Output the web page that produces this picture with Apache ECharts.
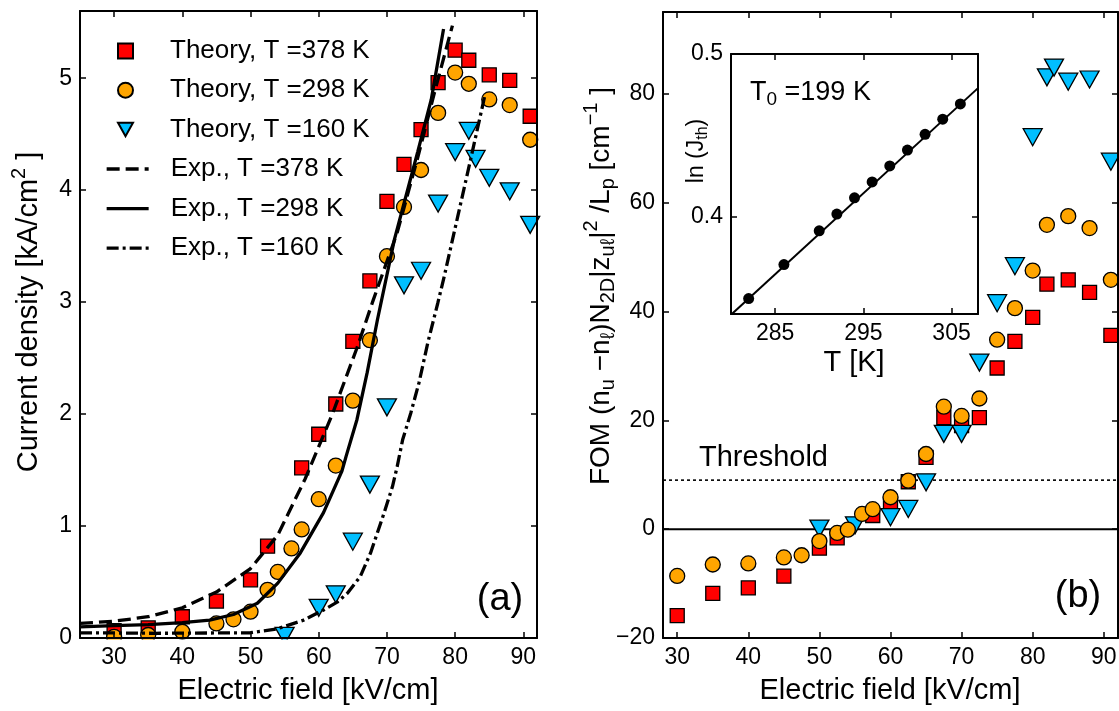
<!DOCTYPE html>
<html><head><meta charset="utf-8">
<script src="https://cdn.jsdelivr.net/npm/echarts@6/dist/echarts.min.js"></script>
<style>html,body{margin:0;padding:0;background:#fff}#c{width:1119px;height:711px}</style>
</head><body><div id="c"></div>
<script>
// ---------- Panel (a): current density ----------
const thE378 = [30,35,40,45,50,52.5,57.5,60,62.5,65,67.5,70,72.5,75,77.5,80,82,85,88,91];
const thJ378 = [0.065,0.09,0.19,0.33,0.52,0.82,1.52,1.82,2.09,2.65,3.19,3.90,4.23,4.54,4.96,5.25,5.16,5.03,4.98,4.66];
const thE298 = [30,35,40,45,47.5,50,52.5,54,56,57.5,60,62.5,65,67.5,70,72.5,75,77.5,80,82,85,88,91];
const thJ298 = [0.01,0.027,0.056,0.13,0.167,0.235,0.43,0.59,0.80,0.97,1.24,1.54,2.12,2.66,3.41,3.85,4.18,4.69,5.05,4.95,4.81,4.76,4.45];
const thE160 = [55,60,62.5,65,67.5,70,72.5,75,77.5,80,82,83,85,88,91];
const thJ160 = [0.02,0.27,0.39,0.86,1.37,2.06,3.15,3.28,3.88,4.34,4.53,4.28,4.11,3.99,3.69];

const expE378 = [25,30,35,40,45,50,54,58,62,65.6,68,71.5,74.6,77,79.6];
const expJ378 = [0.13,0.15,0.19,0.27,0.41,0.62,0.92,1.42,2.0,2.59,3.02,3.62,4.31,4.88,5.47];
const expE298 = [25,30,35,40,44,47.5,51,54,57.3,60.7,63.4,64,65.6,67.1,68.6,71.1,74.5,76.5,78.3];
const expJ298 = [0.10,0.11,0.12,0.137,0.16,0.21,0.31,0.49,0.76,1.12,1.49,1.62,1.95,2.37,2.84,3.56,4.34,4.81,5.44];
const expE160 = [25,30,36,45,50,53.8,57.8,60.7,62.7,64.2,66.1,67.6,68.6,69.6,70.8,71.5,72.3,73.5,74.7,76,77.45,78.4,80.4,82.4,84.3];
const expJ160 = [0.045,0.045,0.042,0.045,0.047,0.08,0.16,0.25,0.32,0.40,0.55,0.76,0.94,1.12,1.35,1.53,1.77,2.01,2.28,2.64,2.99,3.23,3.77,4.31,4.83];

const aXTicks = [30,40,50,60,70,80,90];
const aYTicks = [0,1,2,3,4,5];

// ---------- Panel (b): FOM ----------
const fE378 = [30,35,40,45,50,52.5,57.5,60,62.5,65,67.5,70,72.5,75,77.5,80,82,85,88,91];
const fV378 = [-15.9,-11.8,-10.8,-8.65,-3.5,-1.6,2.5,4.6,8.7,13.2,20.5,19.0,20.5,29.6,34.5,38.9,45.0,45.8,43.5,35.6];
const fE298 = [30,35,40,45,47.5,50,52.5,54,56,57.5,60,62.5,65,67.5,70,72.5,75,77.5,80,82,85,88,91];
const fV298 = [-8.6,-6.5,-6.3,-5.2,-4.8,-2.2,-0.7,-0.1,2.8,3.66,5.86,8.9,13.8,22.5,20.8,24.0,34.8,40.6,47.5,55.9,57.5,55.3,45.8];
const fE160 = [50,55,60,62.5,65,67.5,70,72.5,75,77.5,80,82,83,85,88,91];
const fV160 = [0.1,0.7,2.2,3.7,8.6,17.5,17.5,30.6,41.5,48.3,72.0,83.0,84.8,82.2,82.6,67.5];
const threshold = 9;
const bXTicks = [30,40,50,60,70,80,90];
const bYTicks = [-20,0,20,40,60,80];

// ---------- Inset ----------
const insT = [282,286,290,292,294,296,298,300,302,304,306];
const insLnJ = [0.3495,0.3704,0.3912,0.4015,0.4115,0.4213,0.4311,0.4409,0.4506,0.4599,0.4693];
const fitT = [280,308];
const fitLnJ = [0.3395,0.479];
const insXTicks = [285,295,305];
const insYTicks = [0.4,0.5];

const FONT = "'Liberation Sans', Arial, sans-serif";
const zip = (a, b) => a.map((v, i) => [v, b[i]]);

function axis(pos, grid, min, max, ticks, showLabel) {
  return {
    type: 'value', position: pos, gridIndex: grid, min: min, max: max, z: 10,
    axisLine: {show: true, onZero: false, lineStyle: {color: '#000', width: 2}},
    axisTick: {show: true, inside: true, length: 6, customValues: ticks, lineStyle: {color: '#000', width: 1.5}},
    axisLabel: {show: showLabel, customValues: ticks, color: '#000', fontSize: 23, fontFamily: FONT, margin: 8,
      formatter: v => String(v).replace('-', '\u2212')},
    splitLine: {show: false}
  };
}

const sq = {color: '#ff0000', borderColor: '#000', borderWidth: 1.3, opacity: 1};
const ci = {color: '#ffa500', borderColor: '#000', borderWidth: 1.3, opacity: 1};
const tr = {color: '#00bfff', borderColor: '#000', borderWidth: 1.3, opacity: 1};
const lineItem = {color: '#000', opacity: 0};
const legendText = {fontSize: 26, fontFamily: FONT, color: '#000', lineHeight: 30};

const chart = echarts.init(document.getElementById('c'), null, {renderer: 'canvas'});
chart.setOption({
  animation: false,
  backgroundColor: '#fff',
  grid: [
    {left: 80, top: 11, width: 457, height: 627, outerBoundsMode: 'none'},
    {left: 663, top: 12, width: 455, height: 626, outerBoundsMode: 'none'},
    {left: 731, top: 54, width: 247, height: 260, outerBoundsMode: 'none', show: true, backgroundColor: '#fff', borderWidth: 0}
  ],
  xAxis: [
    axis('bottom', 0, 25, 92, aXTicks, true),
    axis('top', 0, 25, 92, aXTicks, false),
    axis('bottom', 1, 28, 92, bXTicks, true),
    axis('top', 1, 28, 92, bXTicks, false),
    axis('bottom', 2, 280, 308, insXTicks, true),
    axis('top', 2, 280, 308, insXTicks, false)
  ],
  yAxis: [
    axis('left', 0, 0, 5.6, aYTicks, true),
    axis('right', 0, 0, 5.6, aYTicks, false),
    axis('left', 1, -20, 95, bYTicks, true),
    axis('right', 1, -20, 95, bYTicks, false),
    axis('left', 2, 0.34, 0.5, insYTicks, true),
    axis('right', 2, 0.34, 0.5, insYTicks, false)
  ],
  legend: [
    {
      orient: 'vertical', left: 112, top: 31, itemWidth: 15, itemHeight: 15, itemGap: 9.2,
      selectedMode: false,
      textStyle: Object.assign({padding: [0, 0, 0, 32]}, legendText),
      data: [
        {name: 'Theory, T =378 K'},
        {name: 'Theory, T =298 K'},
        {name: 'Theory, T =160 K', icon: 'path://M0,0L20,0L10,18Z'}
      ]
    },
    {
      orient: 'vertical', left: 100, top: 149, itemWidth: 42, itemHeight: 15, itemGap: 9.6,
      selectedMode: false,
      textStyle: Object.assign({padding: [0, 0, 0, 17]}, legendText),
      data: [
        {name: 'Exp., T =378 K', itemStyle: {opacity: 0}, lineStyle: {width: 3.3}},
        {name: 'Exp., T =298 K', itemStyle: {opacity: 0}, lineStyle: {width: 3.3}},
        {name: 'Exp., T =160 K', itemStyle: {opacity: 0}, lineStyle: {width: 3.3}}
      ]
    }
  ],
  series: [
    {name: 'Theory, T =378 K', type: 'scatter', xAxisIndex: 0, yAxisIndex: 0, data: zip(thE378, thJ378),
      symbol: 'rect', symbolSize: 14, itemStyle: sq, z: 2},
    {name: 'Theory, T =298 K', type: 'scatter', xAxisIndex: 0, yAxisIndex: 0, data: zip(thE298, thJ298),
      symbol: 'circle', symbolSize: 15, itemStyle: ci, z: 4},
    {name: 'Theory, T =160 K', type: 'scatter', xAxisIndex: 0, yAxisIndex: 0, data: zip(thE160, thJ160),
      symbol: 'triangle', symbolRotate: 180, symbolSize: [19, 17], itemStyle: tr, z: 3},
    {name: 'Exp., T =378 K', type: 'line', xAxisIndex: 0, yAxisIndex: 0, data: zip(expE378, expJ378),
      symbol: 'none', itemStyle: lineItem, lineStyle: {color: '#000', width: 3.3, type: [13, 6]}, z: 6},
    {name: 'Exp., T =298 K', type: 'line', xAxisIndex: 0, yAxisIndex: 0, data: zip(expE298, expJ298),
      symbol: 'none', itemStyle: lineItem, lineStyle: {color: '#000', width: 3.3, type: 'solid'}, z: 6},
    {name: 'Exp., T =160 K', type: 'line', xAxisIndex: 0, yAxisIndex: 0, data: zip(expE160, expJ160),
      symbol: 'none', itemStyle: lineItem, lineStyle: {color: '#000', width: 3.3, type: [12, 4, 3, 4]}, z: 6},

    {name: 'zero', type: 'line', xAxisIndex: 2, yAxisIndex: 2, data: [[28, 0], [92, 0]],
      symbol: 'none', lineStyle: {color: '#000', width: 2}, z: 1},
    {name: 'threshold', type: 'line', xAxisIndex: 2, yAxisIndex: 2, data: [[28, threshold], [92, threshold]],
      symbol: 'none', lineStyle: {color: '#000', width: 1.6, type: [3, 3]}, z: 1},
    {name: 'FOM 378', type: 'scatter', xAxisIndex: 2, yAxisIndex: 2, data: zip(fE378, fV378),
      symbol: 'rect', symbolSize: 14, itemStyle: sq, z: 2},
    {name: 'FOM 160', type: 'scatter', xAxisIndex: 2, yAxisIndex: 2, data: zip(fE160, fV160),
      symbol: 'triangle', symbolRotate: 180, symbolSize: [19, 17], itemStyle: tr, z: 3},
    {name: 'FOM 298', type: 'scatter', xAxisIndex: 2, yAxisIndex: 2, data: zip(fE298, fV298),
      symbol: 'circle', symbolSize: 15, itemStyle: ci, z: 4},

    {name: 'fit', type: 'line', xAxisIndex: 4, yAxisIndex: 4, data: zip(fitT, fitLnJ),
      symbol: 'none', lineStyle: {color: '#000', width: 2}, z: 5},
    {name: 'lnJ', type: 'scatter', xAxisIndex: 4, yAxisIndex: 4, data: zip(insT, insLnJ),
      symbol: 'circle', symbolSize: 11, itemStyle: {color: '#000', opacity: 1}, z: 6}
  ],
  graphic: [
    {type: 'rect', shape: {x: 81, y: 639.5, width: 455, height: 9}, style: {fill: '#fff'}, z: 7, silent: true},
    {type: 'text', x: 29, y: 312, rotation: Math.PI / 2, z: 20,
      style: {text: '{m|Current density [kA/cm}{sp|2}{m| ]}', align: 'center', verticalAlign: 'middle', fill: '#000',
        rich: {m: {fontSize: 29, fontFamily: FONT}, sp: {fontSize: 20, fontFamily: FONT, padding: [0, 0, 20, 0]}}}},
    {type: 'text', x: 601, y: 286, rotation: Math.PI / 2, z: 20,
      style: {text: '{m|FOM (n}{sb|u}{m| \u2212n}{sb|\u2113}{m|)N}{sb|2D}{m||z}{sb|u\u2113}{m||}{sp|2}{m| /L}{sb|p}{m| [cm}{sp|\u22121}{m| ]}',
        align: 'center', verticalAlign: 'middle', fill: '#000',
        rich: {m: {fontSize: 28, fontFamily: FONT}, sb: {fontSize: 20, fontFamily: FONT, padding: [14, 0, 0, 0]},
          sp: {fontSize: 20, fontFamily: FONT, padding: [0, 0, 20, 0]}}}},
    {type: 'text', x: 697, y: 151, rotation: Math.PI / 2, z: 20,
      style: {text: '{m|ln (J}{sb|th}{m|)}', align: 'center', verticalAlign: 'middle', fill: '#000',
        rich: {m: {fontSize: 23, fontFamily: FONT}, sb: {fontSize: 16, fontFamily: FONT, padding: [12, 0, 0, 0]}}}},
    {type: 'text', x: 308, y: 691, z: 20,
      style: {text: 'Electric field [kV/cm]', font: '29px ' + FONT, align: 'center', verticalAlign: 'middle', fill: '#000'}},
    {type: 'text', x: 890, y: 691, z: 20,
      style: {text: 'Electric field [kV/cm]', font: '29px ' + FONT, align: 'center', verticalAlign: 'middle', fill: '#000'}},
    {type: 'text', x: 854, y: 363, z: 20,
      style: {text: 'T [K]', font: '29px ' + FONT, align: 'center', verticalAlign: 'middle', fill: '#000'}},
    {type: 'text', x: 750, y: 93, z: 20,
      style: {text: '{m|T}{sb|0}{m| =199 K}', align: 'left', verticalAlign: 'middle', fill: '#000',
        rich: {m: {fontSize: 27, fontFamily: FONT}, sb: {fontSize: 19, fontFamily: FONT, padding: [14, 0, 0, 0]}}}},
    {type: 'text', x: 699, y: 458, z: 20,
      style: {text: 'Threshold', font: '29px ' + FONT, align: 'left', verticalAlign: 'middle', fill: '#000'}},
    {type: 'text', x: 500, y: 600, z: 20,
      style: {text: '(a)', font: '38px ' + FONT, align: 'center', verticalAlign: 'middle', fill: '#000'}},
    {type: 'text', x: 1078, y: 597, z: 20,
      style: {text: '(b)', font: '38px ' + FONT, align: 'center', verticalAlign: 'middle', fill: '#000'}}
  ]
});
</script></body></html>
